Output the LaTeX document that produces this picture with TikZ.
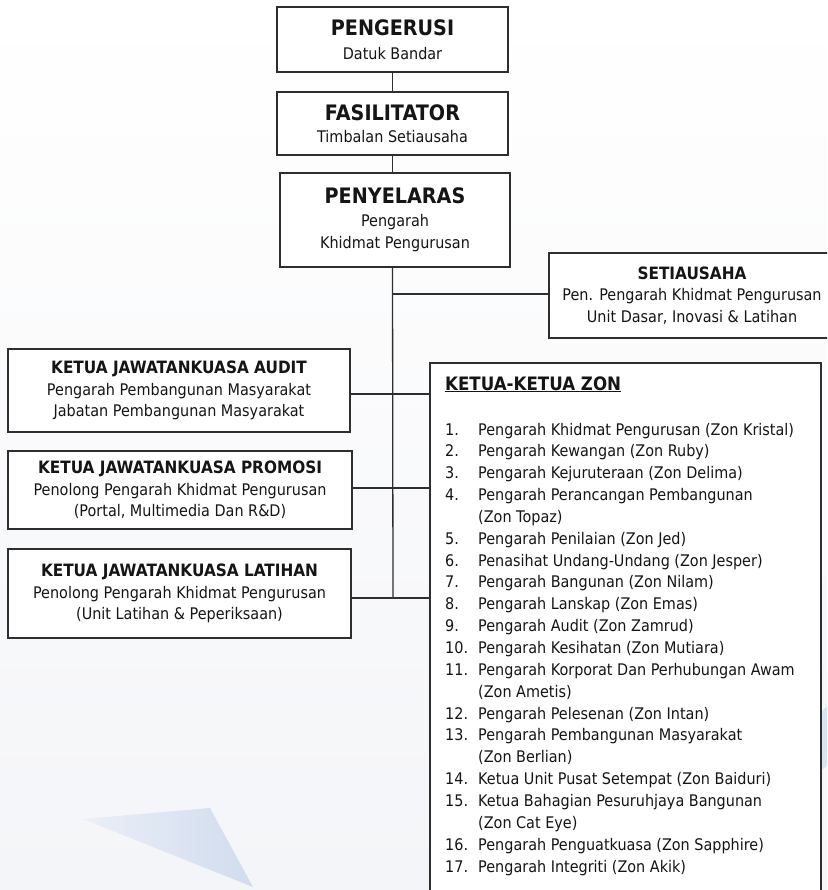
\documentclass[tikz,border=0pt]{standalone}
\usepackage{fontspec}
\setmainfont{DejaVu Sans}[FakeStretch=0.9]
\definecolor{linec}{HTML}{2E2E2E}
\definecolor{txtc}{HTML}{151515}
\definecolor{bgc}{HTML}{F4F5F8}
\definecolor{deco}{HTML}{D1DCEE}
\newcommand\tbig{\fontsize{21.3}{24}\selectfont\bfseries}
\newcommand\tsmb{\fontsize{17}{21.5}\selectfont\bfseries}
\newcommand\tnorm{\fontsize{16}{21.5}\selectfont}
\tikzset{
  box/.style={draw=linec, line width=1.4pt, fill=white, align=center, inner sep=0pt, text=txtc, font=\tnorm},
  conn/.style={draw=linec, line width=1.3pt},
  item/.style={anchor=base west, inner sep=0pt, text=txtc, font=\fontsize{16}{20}\selectfont},
}
\begin{document}
\begin{tikzpicture}[x=1pt,y=-1pt]
\useasboundingbox (0,0) rectangle (827,890);
\clip (0,0) rectangle (827,890);
% background
\shade[top color=white, bottom color=bgc] (0,0) rectangle (827,890);
\shade[left color=deco!45, right color=deco] (83,819) -- (210,808) -- (253,887) -- cycle;
\fill[deco!80] (821,712) -- (827,706) -- (827,766) -- (821,770) -- cycle;

% boxes
\node[box, minimum width=231pt, minimum height=65pt] (peng) at (392.5,39.5)
  {{\tbig PENGERUSI}\\[2.5pt]Datuk Bandar};
\node[box, minimum width=231pt, minimum height=63pt] (fasi) at (392.5,123.5)
  {{\tbig FASILITATOR}\\[1pt]Timbalan Setiausaha};
\node[box, minimum width=230pt, minimum height=94pt] (peny) at (395,220)
  {{\tbig PENYELARAS}\\[1.5pt]Pengarah\\Khidmat Pengurusan};
\node[box, minimum width=286pt, minimum height=85pt] (seti) at (692,295.5)
  {{\tsmb SETIAUSAHA}\\Pen. Pengarah Khidmat Pengurusan\\Unit Dasar, Inovasi \& Latihan};
\node[box, minimum width=342pt, minimum height=83pt] (audit) at (179,390.5)
  {{\tsmb KETUA JAWATANKUASA AUDIT}\\Pengarah Pembangunan Masyarakat\\Jabatan Pembangunan Masyarakat};
\node[box, minimum width=344pt, minimum height=78pt] (promo) at (180,490)
  {{\tsmb KETUA JAWATANKUASA PROMOSI}\\Penolong Pengarah Khidmat Pengurusan\\(Portal, Multimedia Dan R\&D)};
\node[box, minimum width=343pt, minimum height=89pt] (lati) at (179.5,593.5)
  {{\tsmb KETUA JAWATANKUASA LATIHAN}\\Penolong Pengarah Khidmat Pengurusan\\(Unit Latihan \& Peperiksaan)};
\node[box, minimum width=391pt, minimum height=537pt] (zon) at (625.5,631.5) {};

% connectors
\coordinate (tb) at (393,598);
\draw[conn] (peng.south) -- (fasi.north);
\draw[conn] (fasi.south) -- (peny.north -| fasi.south);
\draw[conn] (peny.south -| fasi.south) -- (tb);
\draw[conn] ([yshift=1.5pt]seti.west -| tb) -- ([yshift=1.5pt]seti.west);
\draw[conn] ([yshift=-3.5pt]audit.east) -- ([yshift=-3.5pt]audit.east -| zon.west);
\draw[conn] ([yshift=2pt]promo.east) -- ([yshift=2pt]promo.east -| zon.west);
\draw[conn] ([yshift=-4.5pt]lati.east) -- ([yshift=-4.5pt]lati.east -| zon.west);

% zone list
\node[item, font=\fontsize{18.5}{20}\selectfont\bfseries] (zh) at (445,390) {\underline{KETUA-KETUA ZON}};
\foreach \zno/\ztx [count=\i from 0] in {
  {1.}/{Pengarah Khidmat Pengurusan (Zon Kristal)},
  {2.}/{Pengarah Kewangan (Zon Ruby)},
  {3.}/{Pengarah Kejuruteraan (Zon Delima)},
  {4.}/{Pengarah Perancangan Pembangunan},
  {}/{(Zon Topaz)},
  {5.}/{Pengarah Penilaian (Zon Jed)},
  {6.}/{Penasihat Undang-Undang (Zon Jesper)},
  {7.}/{Pengarah Bangunan (Zon Nilam)},
  {8.}/{Pengarah Lanskap (Zon Emas)},
  {9.}/{Pengarah Audit (Zon Zamrud)},
  {10.}/{Pengarah Kesihatan (Zon Mutiara)},
  {11.}/{Pengarah Korporat Dan Perhubungan Awam},
  {}/{(Zon Ametis)},
  {12.}/{Pengarah Pelesenan (Zon Intan)},
  {13.}/{Pengarah Pembangunan Masyarakat},
  {}/{(Zon Berlian)},
  {14.}/{Ketua Unit Pusat Setempat (Zon Baiduri)},
  {15.}/{Ketua Bahagian Pesuruhjaya Bangunan},
  {}/{(Zon Cat Eye)},
  {16.}/{Pengarah Penguatkuasa (Zon Sapphire)},
  {17.}/{Pengarah Integriti (Zon Akik)}} {
  \node[item] (zn\i) at (445,{435+21.85*\i}) {\zno};
  \node[item] (zt\i) at (478,{435+21.85*\i}) {\ztx};
}
\end{tikzpicture}
\end{document}
